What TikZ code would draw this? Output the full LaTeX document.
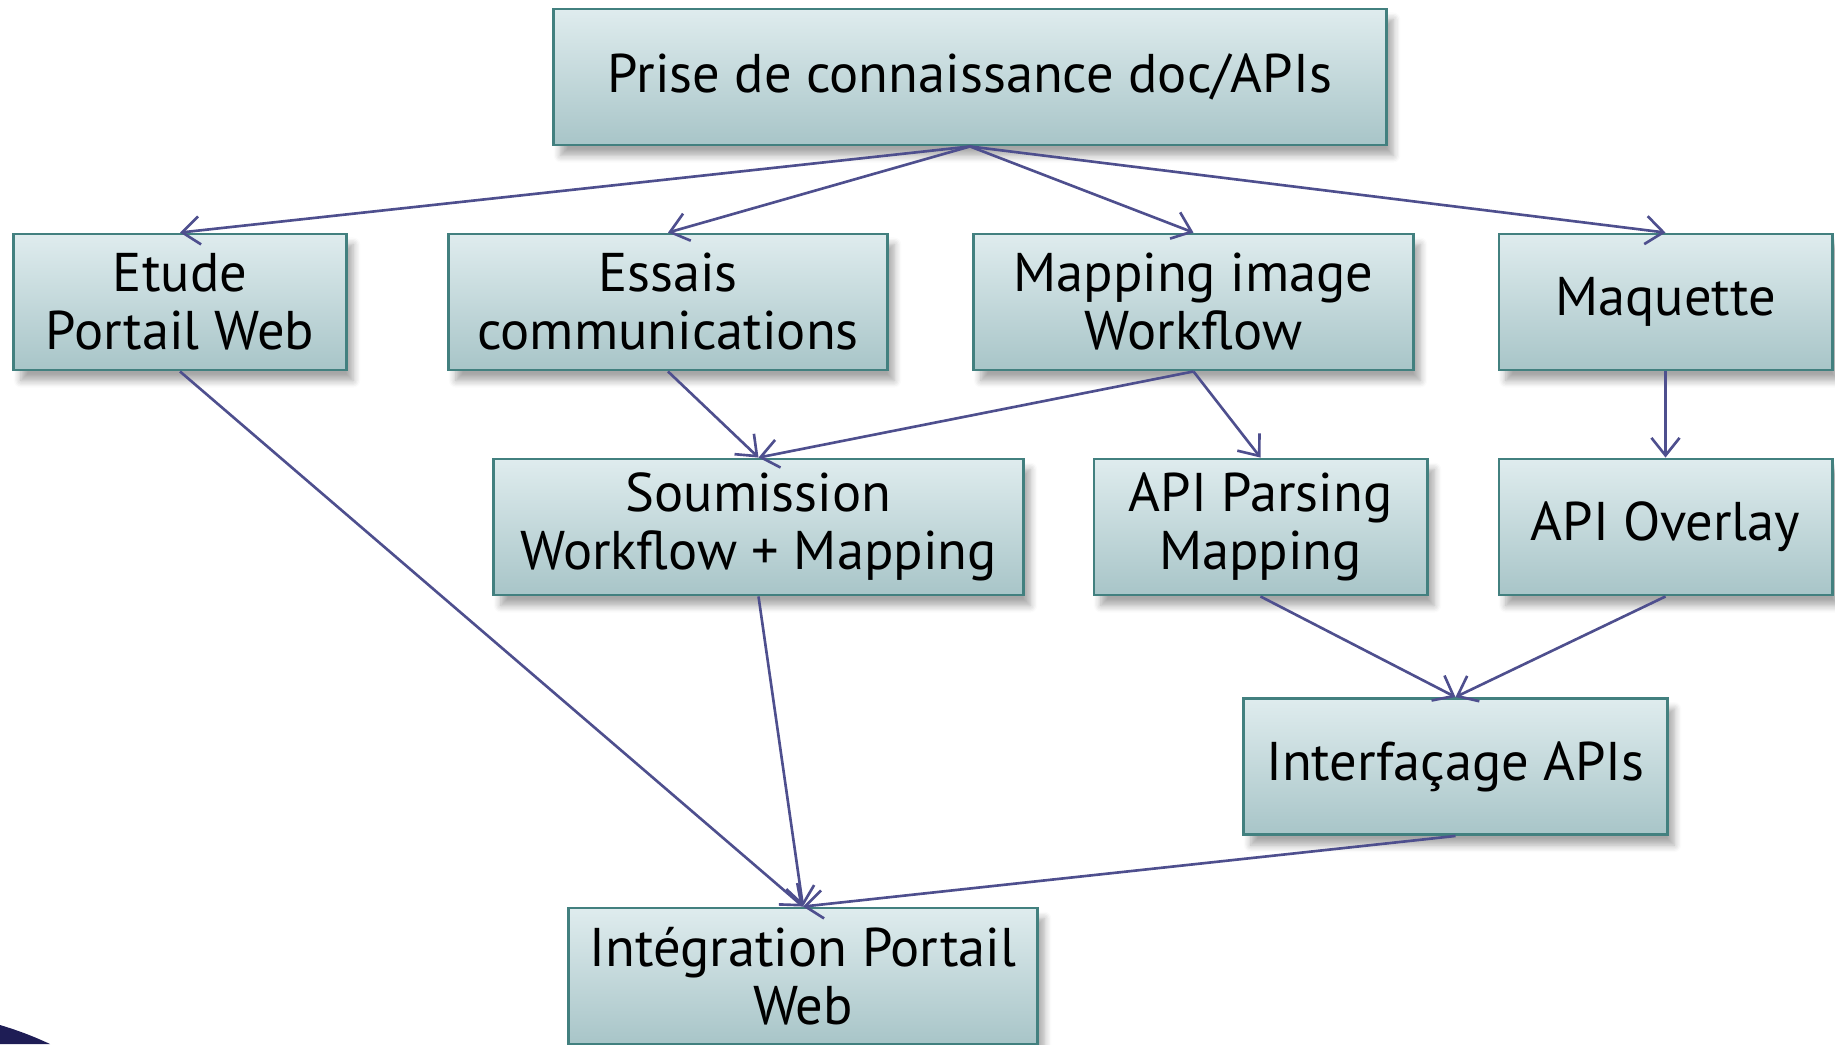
\documentclass[tikz,border=0pt]{standalone}
\usepackage{fontspec}
\setmainfont{PT Sans}
\usetikzlibrary{arrows.meta,shadows.blur}
\definecolor{boxtop}{HTML}{DFECEE}
\definecolor{boxbot}{HTML}{A8C5C8}
\definecolor{boxline}{HTML}{42807F}
\definecolor{linkcol}{HTML}{4E4F8E}
\definecolor{cornercol}{HTML}{1E1D55}
\tikzset{task/.style={draw=boxline, line width=0.8pt, top color=boxtop,
    bottom color=boxbot, minimum height=1.36cm, align=center, inner sep=0pt,
    font=\fontsize{15.5}{16.5}\selectfont,
    blur shadow={shadow xshift=2pt, shadow yshift=-3pt, shadow blur steps=6,
      shadow opacity=35}}}
\tikzset{link/.style={draw=linkcol, line width=0.75pt,
    -{Straight Barb[length=5pt,width=8pt,line width=0.75pt]}}}
\begin{document}
\begin{tikzpicture}[x=0.01cm, y=-0.01cm]
  \clip (0,0) rectangle (1835,1044);

  \node[task, minimum width=8.32cm] (doc) at (970,77) {Prise de connaissance doc/APIs};

  \node[task, minimum width=3.32cm] (etude) at (180,302) {Etude\\Portail Web};
  \node[task, minimum width=4.38cm] (essais) at (668,302) {Essais\\communications};
  \node[task, minimum width=4.39cm] (mapimg) at (1193.5,302) {Mapping image\\Workflow};
  \node[task, minimum width=3.33cm] (maquette) at (1665.5,302) {Maquette};

  \node[task, minimum width=5.29cm] (soumission) at (758.5,527) {Soumission\\Workflow + Mapping};
  \node[task, minimum width=3.33cm] (parsing) at (1260.5,527) {API Parsing\\Mapping};
  \node[task, minimum width=3.33cm] (overlay) at (1665.5,527) {API Overlay};

  \node[task, minimum width=4.23cm] (interf) at (1455.5,766.5) {Interfaçage APIs};
  \node[task, minimum width=4.68cm] (integ) at (803,976) {Intégration Portail\\Web};

  \foreach \a/\b in {doc/etude, doc/essais, doc/mapimg, doc/maquette,
    etude/integ, essais/soumission, mapimg/soumission, mapimg/parsing,
    maquette/overlay, soumission/integ, parsing/interf, overlay/interf,
    interf/integ}
    \draw[link] (\a.south) -- (\b.north);

  % coin du fond
  \fill[cornercol] (0,1025) .. controls (20,1031) and (35,1037) .. (50,1044)
    -- (0,1044) -- cycle;
\end{tikzpicture}
\end{document}
